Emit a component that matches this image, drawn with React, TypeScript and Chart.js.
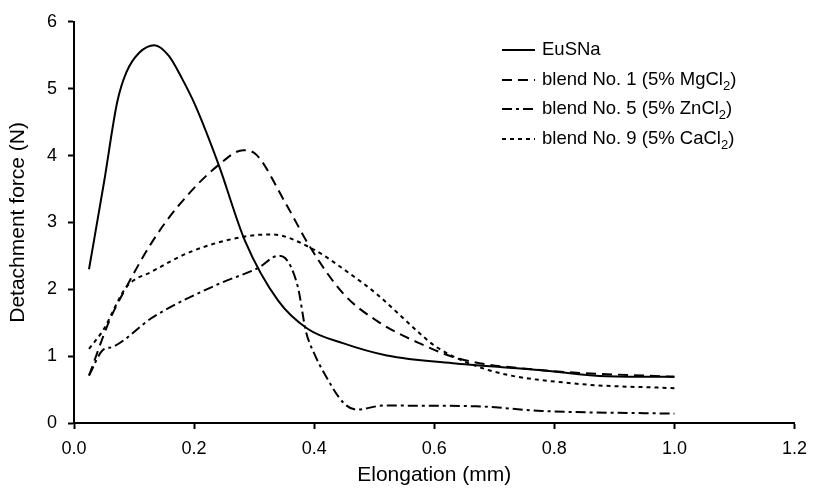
import React, { useEffect, useRef } from "react";
import { Chart, registerables } from "chart.js";

Chart.register(...registerables);

const seriesNames = [
  "EuSNa",
  "blend No. 1 (5% MgCl",
  "blend No. 5 (5% ZnCl",
  "blend No. 9 (5% CaCl",
];

const eusnaX = [0.025, 0.05, 0.072, 0.087, 0.109, 0.134, 0.158, 0.18, 0.202, 0.241, 0.285, 0.34, 0.389, 0.449, 0.521, 0.636, 0.779, 0.888, 1.0];
const eusnaY = [2.3, 3.6, 4.8, 5.24, 5.54, 5.65, 5.49, 5.15, 4.75, 3.86, 2.72, 1.83, 1.41, 1.19, 1.01, 0.89, 0.79, 0.7, 0.69];

const blend1X = [0.025, 0.059, 0.087, 0.131, 0.175, 0.241, 0.282, 0.304, 0.351, 0.394, 0.449, 0.504, 0.576, 0.642, 0.779, 1.0];
const blend1Y = [0.71, 1.53, 2.03, 2.72, 3.26, 3.86, 4.08, 4.01, 3.31, 2.62, 1.93, 1.53, 1.19, 0.96, 0.79, 0.69];

const blend5X = [0.025, 0.048, 0.065, 0.131, 0.241, 0.307, 0.34, 0.351, 0.373, 0.386, 0.4, 0.417, 0.449, 0.471, 0.515, 0.669, 0.779, 1.0];
const blend5Y = [0.71, 1.09, 1.14, 1.58, 2.08, 2.32, 2.5, 2.47, 2.03, 1.38, 1.04, 0.74, 0.3, 0.2, 0.26, 0.25, 0.18, 0.14];

const blend9X = [0.025, 0.048, 0.087, 0.131, 0.197, 0.285, 0.329, 0.394, 0.46, 0.504, 0.576, 0.603, 0.691, 0.834, 1.0];
const blend9Y = [1.11, 1.38, 2.03, 2.27, 2.57, 2.79, 2.82, 2.62, 2.23, 1.93, 1.34, 1.14, 0.79, 0.59, 0.52];

const xTicks = [0, 0.2, 0.4, 0.6, 0.8, 1.0, 1.2];
const yTicks = [0, 1, 2, 3, 4, 5, 6];

const dashes: number[][] = [[], [10, 6], [10, 4, 3, 4], [4, 4]];

const FONT = "'Liberation Sans', Arial, Helvetica, sans-serif";

const toPoints = (xs: number[], ys: number[]) => xs.map((x, i) => ({ x, y: ys[i] }));

const legendPlugin = {
  id: "customLegend",
  afterDraw(chart: any) {
    const ctx = chart.ctx as CanvasRenderingContext2D;
    ctx.save();
    const x0 = 502;
    const lineLen = 33;
    const textX = 542;
    const rows = [50, 80, 109, 139];
    seriesNames.forEach((name, i) => {
      const y = rows[i];
      ctx.strokeStyle = "#000";
      ctx.lineWidth = 2;
      ctx.setLineDash(dashes[i]);
      ctx.beginPath();
      ctx.moveTo(x0, y);
      ctx.lineTo(x0 + lineLen, y);
      ctx.stroke();
      ctx.setLineDash([]);
      ctx.fillStyle = "#000";
      ctx.textBaseline = "middle";
      ctx.textAlign = "left";
      ctx.font = `18.5px ${FONT}`;
      ctx.fillText(name, textX, y);
      if (i > 0) {
        const w = ctx.measureText(name).width;
        ctx.font = `13px ${FONT}`;
        ctx.fillText("2", textX + w, y + 6);
        const w2 = ctx.measureText("2").width;
        ctx.font = `18.5px ${FONT}`;
        ctx.fillText(")", textX + w + w2, y);
      }
    });
    ctx.restore();
  },
};

export default function App() {
  const ref = useRef<HTMLCanvasElement | null>(null);
  useEffect(() => {
    if (!ref.current) return;
    const mk = (i: number, xs: number[], ys: number[]) => ({
      label: seriesNames[i],
      data: toPoints(xs, ys),
      borderColor: "#000",
      backgroundColor: "#000",
      borderWidth: 2,
      borderDash: dashes[i],
      pointRadius: 0,
      fill: false,
      cubicInterpolationMode: "monotone" as const,
    });
    const chart = new Chart(ref.current, {
      type: "line",
      data: {
        datasets: [
          mk(0, eusnaX, eusnaY),
          mk(1, blend1X, blend1Y),
          mk(2, blend5X, blend5Y),
          mk(3, blend9X, blend9Y),
        ],
      },
      options: {
        animation: false,
        responsive: false,
        maintainAspectRatio: false,
        layout: { padding: { top: 19, right: 14, left: 0, bottom: 0 } },
        plugins: { legend: { display: false }, tooltip: { enabled: false } },
        scales: {
          x: {
            type: "linear",
            min: 0,
            max: 1.2,
            afterFit: (s: any) => { s.height = 67; },
            afterBuildTicks: (s: any) => { s.ticks = xTicks.map((v) => ({ value: v })); },
            ticks: {
              color: "#000",
              font: { family: FONT, size: 18 },
              padding: 9,
              maxRotation: 0,
              callback: (v: any) => Number(v).toFixed(1),
            },
            grid: { drawOnChartArea: false, drawTicks: true, tickLength: 6, tickWidth: 2, tickColor: "#000", color: "#000" },
            border: { display: true, color: "#000", width: 2 },
            title: { display: true, text: "Elongation (mm)", color: "#000", font: { family: FONT, size: 21 }, padding: { top: 0, bottom: 2 } },
          },
          y: {
            type: "linear",
            min: 0,
            max: 6,
            afterFit: (s: any) => { s.width = 74; },
            afterBuildTicks: (s: any) => { s.ticks = yTicks.map((v) => ({ value: v })); },
            ticks: {
              color: "#000",
              font: { family: FONT, size: 18 },
              padding: 11,
              callback: (v: any) => String(v),
            },
            grid: { drawOnChartArea: false, drawTicks: true, tickLength: 6, tickWidth: 2, tickColor: "#000", color: "#000" },
            border: { display: true, color: "#000", width: 2 },
            title: { display: true, text: "Detachment force (N)", color: "#000", font: { family: FONT, size: 21 }, padding: { top: 6, bottom: 0 } },
          },
        },
      },
      plugins: [legendPlugin],
    });
    return () => chart.destroy();
  }, []);
  return (
    <div style={{ position: "fixed", left: 0, top: 0, width: 816, height: 490, background: "#fff" }}>
      <canvas ref={ref} width={816} height={490} style={{ width: 816, height: 490, display: "block" }} />
    </div>
  );
}
